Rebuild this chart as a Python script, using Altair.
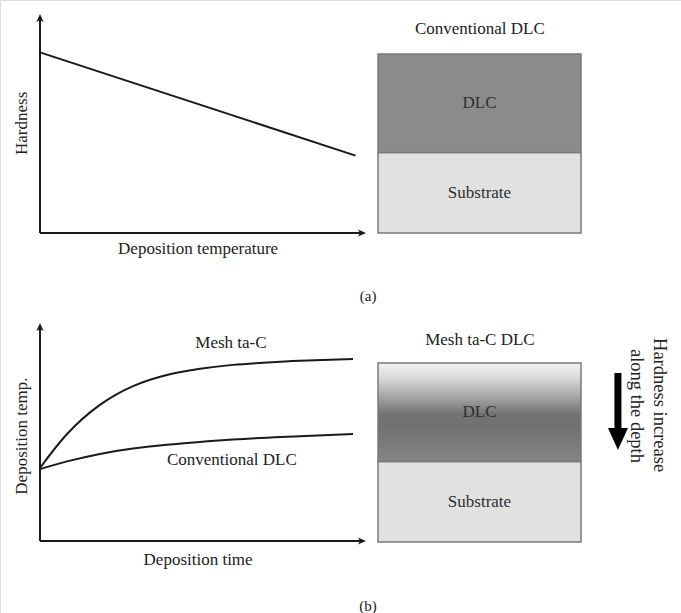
import altair as alt
import pandas as pd

# (a) hardness falls as deposition temperature rises
temp_a = [0.0, 0.98]
hardness_a = [0.84, 0.36]

# (b) deposition temperature against deposition time
time_b = [0.0, 0.084, 0.186, 0.289, 0.394, 0.497, 0.599, 0.705, 0.807, 0.972]
temp_mesh = [0.341, 0.500, 0.636, 0.724, 0.776, 0.805, 0.823, 0.834, 0.842, 0.851]
temp_conv = [0.336, 0.372, 0.407, 0.432, 0.450, 0.463, 0.474, 0.483, 0.490, 0.500]

# film stacks, listed from the bottom up with relative thickness
layer_names = ["Substrate", "DLC"]
layer_thickness = [0.45, 0.55]
layer_colors = ["#e1e1e1", "#8b8b8b"]

SERIF = "Liberation Serif"
INK = "#1a1a1a"
TXT = "#222222"
EDGE = "#7a7a7a"


def lin(lo, hi, dom=(0, 1)):
    return alt.Scale(domain=list(dom), range=[lo, hi], nice=False, zero=False)


# panel scales
xa, ya = lin(40, 362), lin(233, 18)       # (a) curve
xb, yb = lin(40, 362), lin(541, 327)      # (b) curves
xs_a, ys_a = lin(378, 581), lin(233, 54)  # (a) film stack
xs_b, ys_b = lin(378, 581), lin(542, 363)  # (b) film stack


def note(text, u, v, xs, ys, size=17, angle=0):
    return alt.Chart(pd.DataFrame({"t": [text]})).mark_text(
        font=SERIF, fontSize=size, angle=angle, color=TXT,
        align="center", baseline="middle"
    ).encode(
        x=alt.XDatum(u, type="quantitative", scale=xs, axis=None),
        y=alt.YDatum(v, type="quantitative", scale=ys, axis=None),
        text="t:N",
    )


def arrow_axes(xs, ys):
    frame = pd.DataFrame({"x0": [0, 0], "y0": [0, 0], "x1": [1, 0], "y1": [0, 1]})
    rules = alt.Chart(frame).mark_rule(color=INK, strokeWidth=2).encode(
        x=alt.X("x0:Q", scale=xs, axis=None), x2="x1:Q",
        y=alt.Y("y0:Q", scale=ys, axis=None), y2="y1:Q",
    )
    heads = pd.DataFrame({"x": [1, 0], "y": [0, 1],
                          "dir": ["M -1 -0.9 L 1 0 L -1 0.9 L -0.5 0 Z",
                                  "M -0.9 1 L 0 -1 L 0.9 1 L 0 0.5 Z"]})
    tips = alt.Chart(heads).mark_point(filled=True, opacity=1, color=INK, size=64).encode(
        x=alt.X("x:Q", scale=xs, axis=None),
        y=alt.Y("y:Q", scale=ys, axis=None),
        shape=alt.Shape("dir:N", scale=None, legend=None),
    )
    return rules + tips


def curve(t, v, xs, ys):
    df = pd.DataFrame({"t": t, "v": v})
    return alt.Chart(df).mark_line(color=INK, strokeWidth=2, interpolate="natural").encode(
        x=alt.X("t:Q", scale=xs, axis=None),
        y=alt.Y("v:Q", scale=ys, axis=None),
    )


# layer table with bottom/top edges from the cumulative thickness
tops, acc = [], 0.0
for th in layer_thickness:
    acc += th
    tops.append(acc)
layers = pd.DataFrame({
    "layer": layer_names,
    "bottom": [t - th for t, th in zip(tops, layer_thickness)],
    "top": tops,
    "left": [0.0] * len(layer_names),
    "right": [1.0] * len(layer_names),
})
layers["mid"] = (layers["bottom"] + layers["top"]) / 2

fill_scale = alt.Scale(domain=layer_names, range=layer_colors)


def stack(xs, ys, graded=False):
    base = alt.Chart(layers)
    enc = dict(
        x=alt.X("left:Q", scale=xs, axis=None), x2="right:Q",
        y=alt.Y("bottom:Q", scale=ys, axis=None), y2="top:Q",
    )
    if graded:
        solid = base.transform_filter(alt.datum.layer == "Substrate").mark_rect(
            stroke=EDGE, strokeWidth=1.5
        ).encode(color=alt.Color("layer:N", scale=fill_scale, legend=None), **enc)
        fade = base.transform_filter(alt.datum.layer == "DLC").mark_rect(
            stroke=EDGE, strokeWidth=1.5,
            fill={"gradient": "linear", "x1": 0, "y1": 0, "x2": 0, "y2": 1,
                  "stops": [
                      {"offset": 0.0, "color": "#f3f3f3"},
                      {"offset": 0.14, "color": "#dcdcdc"},
                      {"offset": 0.34, "color": "#a6a6a6"},
                      {"offset": 0.52, "color": "#737373"},
                      {"offset": 0.64, "color": "#717171"},
                      {"offset": 1.0, "color": "#858585"},
                  ]},
        ).encode(**enc)
        rects = solid + fade
    else:
        rects = base.mark_rect(stroke=EDGE, strokeWidth=1.5).encode(
            color=alt.Color("layer:N", scale=fill_scale, legend=None), **enc
        )
    names = base.mark_text(font=SERIF, fontSize=17, color="#2e2e2e",
                           align="center", baseline="middle").encode(
        x=alt.XDatum(0.5, type="quantitative", scale=xs, axis=None),
        y=alt.Y("mid:Q", scale=ys, axis=None),
        text="layer:N",
    )
    return rects + names


panel_a = alt.layer(
    arrow_axes(xa, ya),
    curve(temp_a, hardness_a, xa, ya),
    note("Hardness", -0.056, 0.51, xa, ya, angle=270),
    note("Deposition temperature", 0.491, -0.074, xa, ya),
    note("(a)", 1.019, -0.293, xa, ya, size=15),
)

panel_b = alt.layer(
    arrow_axes(xb, yb),
    curve(time_b, temp_mesh, xb, yb),
    curve(time_b, temp_conv, xb, yb),
    note("Deposition temp.", -0.056, 0.49, xb, yb, angle=270),
    note("Deposition time", 0.491, -0.089, xb, yb),
    note("Mesh ta-C", 0.593, 0.925, xb, yb),
    note("Conventional DLC", 0.596, 0.379, xb, yb),
    note("(b)", 1.019, -0.304, xb, yb, size=15),
)

box_a = alt.layer(
    stack(xs_a, ys_a),
    note("Conventional DLC", 0.502, 1.142, xs_a, ys_a),
)

# downward arrow beside the graded film
shaft = alt.Chart(pd.DataFrame({"u": [1.182], "v0": [0.944], "v1": [0.60]})).mark_rule(
    color="#000000", strokeWidth=7, strokeCap="butt"
).encode(
    x=alt.X("u:Q", scale=xs_b, axis=None),
    y=alt.Y("v0:Q", scale=ys_b, axis=None), y2="v1:Q",
)
head = alt.Chart(pd.DataFrame({"u": [1.182], "v": [0.575]})).mark_point(
    shape="M -1 -1.1 L 1 -1.1 L 0 1.1 Z", filled=True, opacity=1,
    color="#000000", size=400
).encode(
    x=alt.X("u:Q", scale=xs_b, axis=None),
    y=alt.Y("v:Q", scale=ys_b, axis=None),
)

box_b = alt.layer(
    stack(xs_b, ys_b, graded=True),
    note("Mesh ta-C DLC", 0.502, 1.128, xs_b, ys_b),
    shaft, head,
    note("Hardness increase", 1.389, 0.765, xs_b, ys_b, size=18.5, angle=90),
    note("along the depth", 1.276, 0.76, xs_b, ys_b, size=18.5, angle=90),
)

chart = alt.layer(panel_a, panel_b, box_a, box_b).resolve_scale(
    x="independent", y="independent"
).properties(
    width=681, height=613, padding=0,
    autosize=alt.AutoSizeParams(type="none"),
).configure_view(stroke=None).configure(background="white")

chart.save("out.html", embed_options={"renderer": "svg", "actions": False})
